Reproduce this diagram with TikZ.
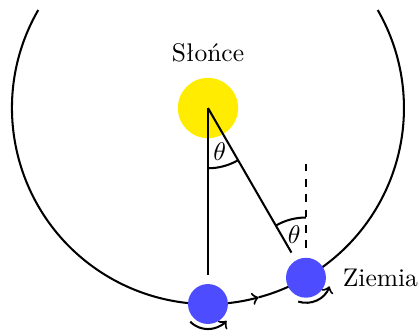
\documentclass[tikz,border=0pt]{standalone}
\usepackage{fontspec}
\definecolor{sunYellow}{RGB}{255, 236, 0}
\definecolor{earthBlue}{RGB}{77, 77, 255}
\tikzset{
  planet/.style={circle, inner sep=0pt, minimum size=#1},
}

\begin{document}
\begin{tikzpicture}[thick]
        \useasboundingbox (-2.865,-3.127) rectangle (2.907,1.488);
        % orbit
        \draw[->] (150:2.7) arc (150:285:2.7);
        \draw (285:2.7) arc (285:390:2.7);
        \node[planet=0.83cm, fill=sunYellow, label={[label distance=2pt]above:Słońce}] (sun) at (0,0) {};
        \node[planet=0.55cm, fill=earthBlue] (earthA) at (270:2.7) {};
        \node[planet=0.55cm, fill=earthBlue, label={[label distance=2.5pt]right:Ziemia}] (earthB) at (300:2.7) {};
        \coordinate (endA) at (270:2.3);
        \coordinate (endB) at (300:2.3);
        \draw (sun.center) -- (endA);
        \draw (sun.center) -- (endB);
        % angles
        \draw ([shift={(270:0.83)}]sun.center) arc (270:300:0.83);
        \node (thetaSun) at ([shift={(285:0.62)}]sun.center) {$\theta$};
        \coordinate (dashLow) at ([yshift=0.41cm]earthB.center);
        \coordinate (dashTop) at ([yshift=1.6cm]earthB.center);
        \draw[dashed] (dashLow) -- (dashTop);
        \draw ([shift={(90:0.83)}]earthB.center) arc (90:120:0.83);
        \node (thetaEarth) at ([shift={(105:0.62)}]earthB.center) {$\theta$};
        % spin
        \draw[->] ([shift={(225:0.345)}]earthA.center) arc (225:318:0.345);
        \draw[->] ([shift={(252:0.345)}]earthB.center) arc (252:340:0.345);
      \end{tikzpicture}
\end{document}
